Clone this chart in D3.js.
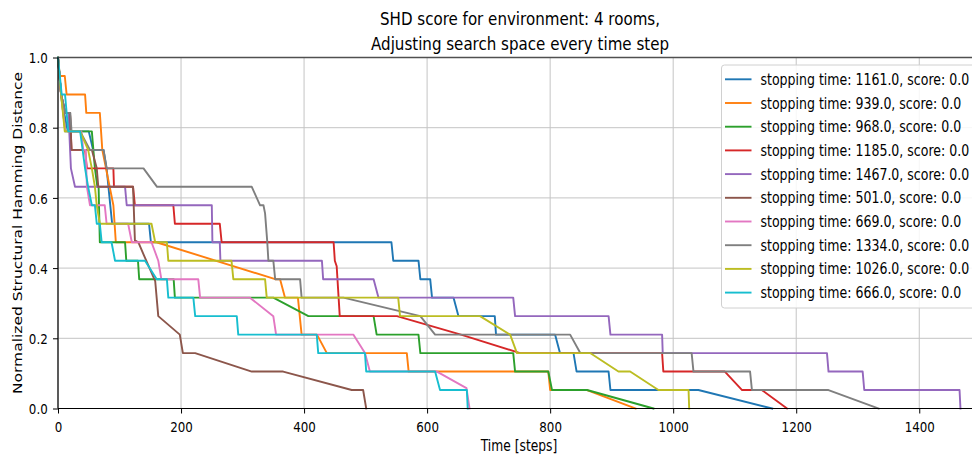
<!DOCTYPE html>
<html>
<head>
<meta charset="utf-8">
<script src="https://cdn.jsdelivr.net/npm/d3@7"></script>
<style>
  body { margin: 0; background: #fff; }
  svg text { font-family: "DejaVu Sans", sans-serif; fill: #000; }
</style>
</head>
<body>
<svg id="chart" width="972" height="459"></svg>
<script>
// SHD counts per run (normalized by maxShd)
const maxShd = 19;
const stoppingTimes = [1161, 939, 968, 1185, 1467, 501, 669, 1334, 1026, 666];
const finalScores = [0, 0, 0, 0, 0, 0, 0, 0, 0, 0];

const steps0 = [0, 5, 10, 16, 50, 57, 74, 79, 82, 85, 88, 148, 151, 542, 545, 586, 589, 605, 608, 643, 651, 710, 712, 808, 816, 838, 843, 895, 898, 1041, 1161];
const shd0   = [19, 17, 16, 15, 15, 14, 14, 13, 12, 11, 10, 10, 9, 9, 8, 8, 7, 7, 6, 6, 5, 5, 4, 4, 3, 3, 2, 2, 1, 1, 0];

const steps1 = [0, 3, 11, 14, 44, 46, 68, 72, 90, 94, 160, 353, 361, 369, 390, 396, 421, 437, 567, 570, 797, 800, 860, 939];
const shd1   = [19, 18, 18, 17, 17, 16, 16, 14, 11, 9, 9, 7, 7, 6, 6, 4, 4, 3, 3, 2, 2, 1, 1, 0];

const steps2 = [0, 5, 12, 55, 60, 64, 66, 68, 109, 111, 130, 132, 188, 190, 350, 407, 513, 518, 586, 589, 740, 743, 797, 803, 860, 968];
const shd2   = [19, 17, 15, 15, 13, 12, 12, 9, 9, 8, 8, 7, 7, 6, 6, 5, 5, 4, 4, 3, 3, 2, 2, 1, 1, 0];

const steps3 = [0, 5, 12, 19.5, 22, 44, 47, 90, 91, 122, 125, 187.5, 190, 263, 266, 448, 450, 453, 458, 551, 655, 751, 982, 984, 1084, 1112, 1144, 1185];
const shd3   = [19, 17, 16, 16, 14, 14, 13, 13, 12, 12, 11, 11, 10, 10, 9, 9, 8, 7.7, 5, 5, 4, 3, 3, 2, 2, 1, 1, 0];

const steps4 = [0, 5, 12, 17, 21, 27.6, 109, 111.7, 250, 251, 263, 264, 429, 431, 513, 521, 740, 743, 895, 898, 982, 983, 1250, 1252.5, 1308, 1310.6, 1465.5, 1467];
const shd4   = [19, 17, 16, 16, 13, 12, 12, 11, 11, 9, 9, 8, 8, 7, 7, 6, 6, 5, 5, 4, 4, 3, 3, 2, 2, 1, 1, 0];

const steps5 = [0, 5, 12, 19.5, 22, 55, 63, 65.5, 122, 125, 130.5, 141.5, 158, 163, 198, 203, 223, 315, 366, 477.5, 496, 501];
const shd5   = [19, 17, 16, 16, 14, 14, 13, 12, 12, 9.1, 9, 8.15, 6.9, 5, 4, 3, 3, 2, 2, 1, 1, 0];

const steps6 = [0, 5, 12, 38, 41, 45, 47, 52, 76, 79, 114, 120, 152, 163, 168, 228, 231, 312, 350, 354.5, 480, 499, 507, 616, 664, 669];
const shd6   = [19, 17, 15, 15, 14, 14, 12, 11, 11, 10, 10, 9, 9, 8, 7, 7, 6, 6, 5, 4, 4, 3, 2, 2, 1.1, 0];

const steps7 = [0, 5, 12, 20, 22, 36, 52, 74, 79, 139, 161, 315, 328.5, 334, 336.6, 340, 342, 350, 353, 393.5, 396, 464, 589, 613, 832.5, 849, 1030, 1033, 1125, 1128, 1252.5, 1334];
const shd7   = [19, 17, 16, 16, 15, 15, 14, 14, 13, 13, 12, 12, 11, 11, 10.56, 9.1, 8, 8, 7, 7, 6, 6, 5, 4, 4, 3, 3, 2, 2, 1, 1, 0];

const steps8 = [0, 5, 11, 36, 49, 55, 60, 63, 68, 152, 158, 177, 179.3, 282, 285, 336.6, 339.3, 553, 556, 686, 735, 746, 865, 911, 930, 976, 1025, 1026];
const shd8   = [19, 17, 15, 15, 14, 13, 12, 11, 10, 10, 9, 9, 8, 8, 7, 7, 6, 6, 5, 5, 4, 3, 3, 2, 2, 1, 1, 0];

const steps9 = [0, 6, 11.4, 16.7, 36, 44, 49, 55, 60, 63, 68, 71, 87, 92.7, 141.5, 160.5, 177, 179.3, 220, 223, 290.6, 293, 420.6, 423, 499, 501, 613, 621, 664.6, 666];
const shd9   = [19, 17, 17, 15, 15, 13, 12, 11, 11, 10, 10, 9, 9, 8, 8, 7, 7, 6, 6, 5, 5, 4, 4, 3, 3, 2, 2, 1, 1, 0];

const xTicks = [0, 200, 400, 600, 800, 1000, 1200, 1400];
const yTicks = [0, 0.2, 0.4, 0.6, 0.8, 1.0];
const titleLines = ["SHD score for environment: 4 rooms,", "Adjusting search space every time step"];

const runSteps = [steps0, steps1, steps2, steps3, steps4, steps5, steps6, steps7, steps8, steps9];
const runShd = [shd0, shd1, shd2, shd3, shd4, shd5, shd6, shd7, shd8, shd9];

// the source image is squashed horizontally, so text gets squashed too
const sx = 0.82;

const svg = d3.select('#chart');
const plotLeft = 58, plotRight = 982, plotTop = 57.5, plotBottom = 408.5;

const x = d3.scaleLinear().domain([0, 1502]).range([plotLeft, plotRight]);
const y = d3.scaleLinear().domain([0, 1]).range([plotBottom, plotTop]);
const colors = d3.schemeCategory10;

// grid
svg.append('g').selectAll('line').data(xTicks).join('line')
  .attr('x1', d => x(d)).attr('x2', d => x(d))
  .attr('y1', plotTop).attr('y2', plotBottom)
  .attr('stroke', '#c4c4c4').attr('stroke-width', 1);
svg.append('g').selectAll('line').data(yTicks).join('line')
  .attr('x1', plotLeft).attr('x2', plotRight)
  .attr('y1', d => y(d)).attr('y2', d => y(d))
  .attr('stroke', '#c4c4c4').attr('stroke-width', 1);

// runs
const line = d3.line().x(d => x(d[0])).y(d => y(d[1] / maxShd));
runSteps.forEach((st, i) => {
  const pts = st.map((s, j) => [s, runShd[i][j]]);
  svg.append('path')
    .datum(pts)
    .attr('d', line)
    .attr('fill', 'none')
    .attr('stroke', colors[i])
    .attr('stroke-width', 1.9)
    .attr('stroke-linejoin', 'round')
    .attr('stroke-linecap', 'square');
});

// axes
const xAxis = svg.append('g').attr('transform', `translate(0,${plotBottom})`)
  .call(d3.axisBottom(x).tickValues(xTicks).tickSize(5).tickSizeOuter(0).tickFormat(d3.format('d')));
xAxis.select('.domain').remove();
xAxis.selectAll('.tick line').attr('stroke', '#000');
xAxis.selectAll('.tick text')
  .attr('y', 13).attr('dy', '0.71em')
  .attr('font-size', 14.5)
  .attr('font-family', '"DejaVu Sans", sans-serif')
  .attr('transform', `scale(${sx},1)`);

const yAxis = svg.append('g').attr('transform', `translate(${plotLeft},0)`)
  .call(d3.axisLeft(y).tickValues(yTicks).tickSize(5).tickSizeOuter(0).tickFormat(d3.format('.1f')));
yAxis.select('.domain').remove();
yAxis.selectAll('.tick line').attr('stroke', '#000');
yAxis.selectAll('.tick text')
  .attr('x', -12.5).attr('dy', '0.36em')
  .attr('font-size', 14.5)
  .attr('font-family', '"DejaVu Sans", sans-serif')
  .attr('transform', `scale(${sx},1)`);

// spines
svg.append('line').attr('x1', plotLeft).attr('x2', plotRight).attr('y1', plotTop).attr('y2', plotTop)
  .attr('stroke', '#505050').attr('stroke-width', 1.5);
svg.append('line').attr('x1', plotLeft).attr('x2', plotLeft).attr('y1', plotTop).attr('y2', plotBottom)
  .attr('stroke', '#000').attr('stroke-width', 1.2);
svg.append('line').attr('x1', plotLeft).attr('x2', plotRight).attr('y1', plotBottom).attr('y2', plotBottom)
  .attr('stroke', '#000').attr('stroke-width', 1.2);

// title and labels
titleLines.forEach((t, i) => {
  svg.append('text')
    .attr('transform', `translate(520,${25 + i * 24.5}) scale(${sx},1)`)
    .attr('text-anchor', 'middle')
    .attr('font-size', 18.4)
    .text(t);
});
svg.append('text')
  .attr('transform', `translate(519,451) scale(${sx},1)`)
  .attr('text-anchor', 'middle')
  .attr('font-size', 15)
  .text('Time [steps]');
svg.append('text')
  .attr('transform', `translate(22,233) scale(${sx},1) rotate(-90)`)
  .attr('text-anchor', 'middle')
  .attr('font-size', 15.5)
  .text('Normalized Structural Hamming Distance');

// legend
const lg = svg.append('g');
lg.append('rect')
  .attr('x', 721.5).attr('y', 65).attr('width', 262).attr('height', 243)
  .attr('rx', 3)
  .attr('fill', '#fff').attr('fill-opacity', 0.85)
  .attr('stroke', '#d0d0d0').attr('stroke-width', 1);
stoppingTimes.forEach((t, i) => {
  const ry = 79.3 + i * 23.7;
  lg.append('line')
    .attr('x1', 725).attr('x2', 751.5).attr('y1', ry).attr('y2', ry)
    .attr('stroke', colors[i]).attr('stroke-width', 1.9);
  lg.append('text')
    .attr('transform', `translate(760.5,${ry}) scale(${sx},1)`)
    .attr('dy', '0.36em')
    .attr('font-size', 15.3)
    .text(`stopping time: ${t.toFixed(1)}, score: ${finalScores[i].toFixed(1)}`);
});
</script>
</body>
</html>
